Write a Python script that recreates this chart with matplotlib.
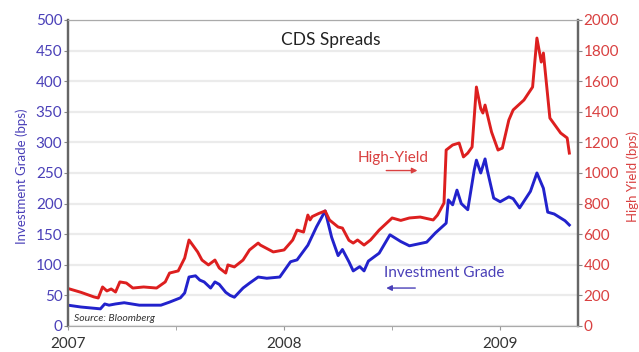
import numpy as np
import matplotlib.pyplot as plt

# Investment grade CDS spreads (bps), left axis
ig_t = [2007.00, 2007.06, 2007.12, 2007.15, 2007.17, 2007.19, 2007.22, 2007.26, 2007.33, 2007.43,
        2007.47, 2007.52, 2007.54, 2007.56, 2007.59, 2007.61, 2007.63, 2007.66, 2007.68, 2007.70,
        2007.73, 2007.75, 2007.77, 2007.81, 2007.84, 2007.88, 2007.92, 2007.98, 2008.03, 2008.06,
        2008.11, 2008.15, 2008.19, 2008.22, 2008.25, 2008.27, 2008.30, 2008.32, 2008.35, 2008.37,
        2008.39, 2008.44, 2008.47, 2008.49, 2008.54, 2008.58, 2008.66, 2008.70, 2008.75, 2008.76,
        2008.78, 2008.80, 2008.82, 2008.85, 2008.88, 2008.89, 2008.91, 2008.93, 2008.94, 2008.97,
        2009.00, 2009.04, 2009.06, 2009.09, 2009.14, 2009.17, 2009.20, 2009.22, 2009.25, 2009.30,
        2009.32]
ig_v = [34, 31, 29, 28, 36, 34, 36, 38, 34, 34,
        39, 46, 54, 80, 82, 75, 72, 62, 72, 68,
        55, 50, 47, 62, 70, 80, 78, 80, 105, 108,
        132, 162, 188, 145, 115, 125, 105, 90, 97, 90,
        106, 119, 137, 149, 138, 131, 137, 152, 168, 206,
        198, 222, 200, 190, 255, 271, 250, 273, 255, 209,
        203, 211, 208, 193, 220, 250, 225, 186, 183, 172,
        165]

# High yield CDS spreads (bps), right axis
hy_t = [2007.00, 2007.06, 2007.12, 2007.14, 2007.16, 2007.18, 2007.20, 2007.22, 2007.24, 2007.27,
        2007.30, 2007.35, 2007.41, 2007.45, 2007.47, 2007.51, 2007.54, 2007.56, 2007.60, 2007.62,
        2007.65, 2007.68, 2007.70, 2007.73, 2007.74, 2007.77, 2007.81, 2007.84, 2007.88, 2007.89,
        2007.95, 2008.00, 2008.04, 2008.06, 2008.09, 2008.11, 2008.12, 2008.13, 2008.16, 2008.19,
        2008.21, 2008.25, 2008.27, 2008.30, 2008.32, 2008.34, 2008.37, 2008.40, 2008.44, 2008.50,
        2008.54, 2008.58, 2008.63, 2008.69, 2008.71, 2008.74, 2008.75, 2008.78, 2008.81, 2008.83,
        2008.85, 2008.87, 2008.89, 2008.91, 2008.92, 2008.93, 2008.96, 2008.99, 2009.01, 2009.04,
        2009.06, 2009.11, 2009.15, 2009.17, 2009.19, 2009.20, 2009.23, 2009.28, 2009.31, 2009.32]
hy_v = [245, 220, 190, 183, 255, 229, 242, 222, 288, 281,
        248, 255, 248, 288, 346, 360, 444, 562, 484, 431,
        399, 431, 379, 346, 399, 386, 431, 497, 542, 529,
        484, 497, 562, 627, 614, 725, 693, 715, 735, 752,
        693, 647, 640, 560, 542, 562, 529, 562, 627, 706,
        690, 706, 712, 693, 725, 804, 1150, 1183, 1196, 1105,
        1130, 1170, 1562, 1420, 1392, 1444, 1268, 1150, 1163, 1346,
        1412, 1477, 1562, 1882, 1725, 1784, 1359, 1261, 1229, 1130]

ig_ticks = np.arange(0, 501, 50)
hy_ticks = np.arange(0, 2001, 200)
year_ticks = [2007, 2008, 2009]

blue = '#2222cc'
red = '#dd1f1f'
blue_txt = '#4a40b8'
red_txt = '#d94040'

plt.rcParams['font.family'] = ['Lato', 'DejaVu Sans']

fig = plt.figure(figsize=(6.39, 3.52), dpi=100)
ax = fig.add_axes([0.1064, 0.0739, 0.7981, 0.8693])
ax2 = ax.twinx()

ax.set_xlim(2007, 2009.36)
ax.set_ylim(0, 500)
ax2.set_ylim(0, 2000)
ax.set_yticks(ig_ticks)
ax2.set_yticks(hy_ticks)
ax.set_xticks(year_ticks)
ax.set_xticklabels([str(y) for y in year_ticks])
ax.set_xticks([2007.5, 2008.5], minor=True)

ax.grid(axis='y', color='#ebebeb', lw=1.6)
ax.set_axisbelow(True)

ax.plot(ig_t, ig_v, color=blue, lw=2.1, solid_joinstyle='round')
ax2.plot(hy_t, hy_v, color=red, lw=2.1, solid_joinstyle='round')

ax.tick_params(axis='y', colors='#888888', labelcolor=blue_txt, labelsize=11, length=3, pad=1)
ax2.tick_params(axis='y', colors='#888888', labelcolor=red_txt, labelsize=11, length=3, pad=1)
ax.tick_params(axis='x', which='both', colors='#999999', labelcolor='#333333', labelsize=11,
               length=3, pad=5)

for a in (ax, ax2):
    a.spines['left'].set_color('#666666')
    a.spines['right'].set_color('#666666')
    a.spines['left'].set_linewidth(1.6)
    a.spines['right'].set_linewidth(1.6)
    a.spines['top'].set_color('#aaaaaa')
    a.spines['bottom'].set_color('#aaaaaa')

ax.text(2008.215, 467, 'CDS Spreads', ha='center', va='center', fontsize=12.5, color='#222222')

ax.text(2008.505, 274, 'High-Yield', ha='center', va='center', fontsize=11, color=red_txt)
ax.annotate('', xy=(2008.63, 254), xytext=(2008.46, 254),
            arrowprops=dict(arrowstyle='-|>', color=red_txt, lw=1, mutation_scale=8))
ax.text(2008.74, 87, 'Investment Grade', ha='center', va='center', fontsize=11, color=blue_txt)
ax.annotate('', xy=(2008.46, 62), xytext=(2008.62, 62),
            arrowprops=dict(arrowstyle='-|>', color=blue_txt, lw=1, mutation_scale=8))

ax.text(2007.03, 13, 'Source: Bloomberg', ha='left', va='center', fontsize=7.5,
        style='italic', color='#333333')

fig.text(0.034, 0.5, 'Investment Grade (bps)', rotation=90, ha='center', va='center',
         fontsize=9.5, color=blue_txt)
fig.text(0.99, 0.5, 'High Yield (bps)', rotation=90, ha='center', va='center',
         fontsize=9.5, color=red_txt)

fig.savefig('out.png', dpi=100)
